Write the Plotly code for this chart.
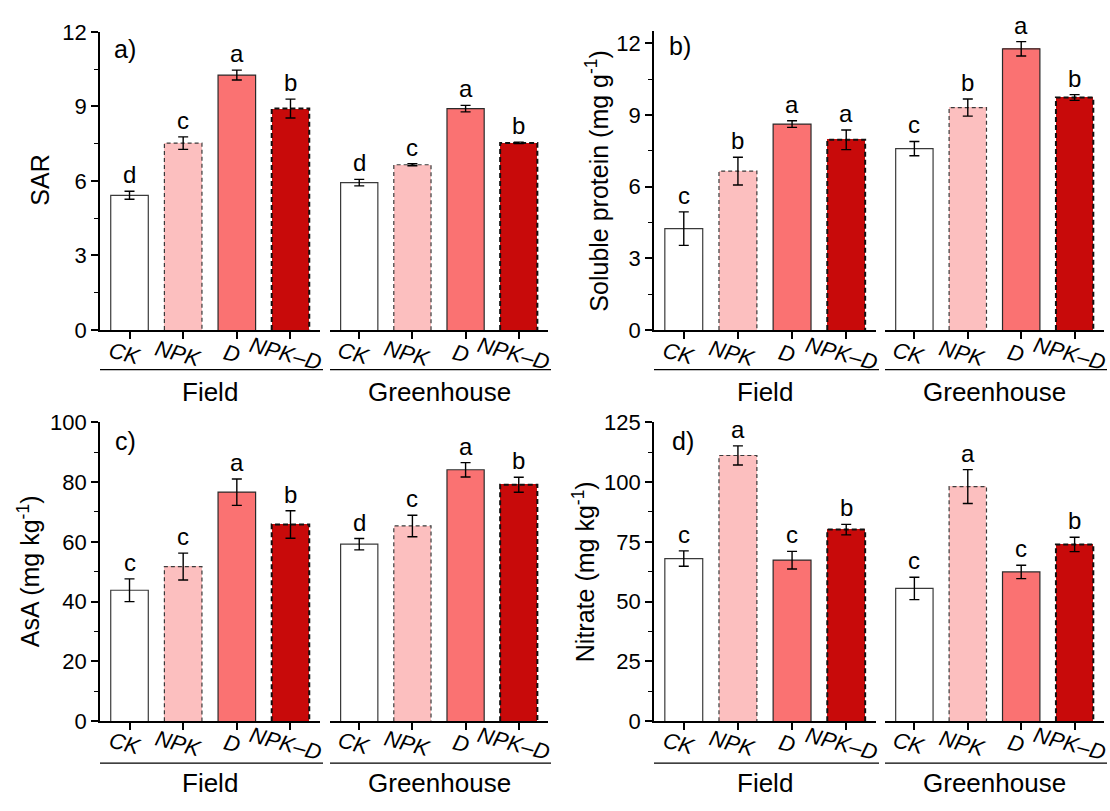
import plotly.graph_objects as go

# ---------------- data ----------------
treatments = ["CK", "NPK", "D", "NPK\u2013D"]
sites = ["Field", "Greenhouse"]

sar_field = [5.42, 7.52, 10.26, 8.91]
sar_field_err = [0.16, 0.25, 0.20, 0.38]
sar_field_sig = ["d", "c", "a", "b"]
sar_gh = [5.93, 6.65, 8.91, 7.53]
sar_gh_err = [0.13, 0.04, 0.13, 0.03]
sar_gh_sig = ["d", "c", "a", "b"]

protein_field = [4.24, 6.65, 8.62, 7.96]
protein_field_err = [0.70, 0.58, 0.14, 0.41]
protein_field_sig = ["c", "b", "a", "a"]
protein_gh = [7.59, 9.31, 11.77, 9.73]
protein_gh_err = [0.30, 0.36, 0.30, 0.12]
protein_gh_sig = ["c", "b", "a", "b"]

asa_field = [43.8, 51.7, 76.6, 65.8]
asa_field_err = [3.8, 4.5, 4.4, 4.6]
asa_field_sig = ["c", "c", "a", "b"]
asa_gh = [59.2, 65.3, 84.1, 79.1]
asa_gh_err = [1.9, 3.6, 2.4, 2.5]
asa_gh_sig = ["d", "c", "a", "b"]

nitrate_field = [68.0, 111.1, 67.3, 80.1]
nitrate_field_err = [3.2, 4.0, 3.7, 2.2]
nitrate_field_sig = ["c", "a", "c", "b"]
nitrate_gh = [55.5, 98.1, 62.4, 73.9]
nitrate_gh_err = [4.7, 7.1, 2.8, 3.0]
nitrate_gh_sig = ["c", "a", "c", "b"]

# ---------------- styling ----------------
FONT = "Liberation Sans, Arial, sans-serif"
W, H = 1110, 811
BAR_W = 0.7
fills = ["#FFFFFF", "#FCBFBF", "#FA7272", "#C80A0A"]
edges = [
    dict(color="#3a3a3a", width=1.2, dash="solid"),
    dict(color="#3a3a3a", width=1.2, dash="4px,3px"),
    dict(color="#2a2a2a", width=1.2, dash="solid"),
    dict(color="#111111", width=2.0, dash="5px,3px"),
]


def px(x):
    return x / W


def py(y):
    return 1 - y / H


panels = [
    dict(tag="a)", title="SAR", yrange=[0, 12], dtick=3, minor=1.5,
         data=[(sar_field, sar_field_err, sar_field_sig),
               (sar_gh, sar_gh_err, sar_gh_sig)],
         cols=[(100, 320), (330, 548)], rows=(20.5, 328),
         title_xy=(40, 174), tag_xy=(125, 38), cat_y=352, line_y=369, site_y=392),
    dict(tag="b)", title="Soluble protein (mg g<sup>-1</sup>)", yrange=[0, 12.5], dtick=3, minor=1.5,
         data=[(protein_field, protein_field_err, protein_field_sig),
               (protein_gh, protein_gh_err, protein_gh_sig)],
         cols=[(654, 876), (885, 1104)], rows=(20, 328),
         title_xy=(597, 174), tag_xy=(680, 35), cat_y=352, line_y=369, site_y=392),
    dict(tag="c)", title="AsA (mg kg<sup>-1</sup>)", yrange=[0, 100], dtick=20, minor=10,
         data=[(asa_field, asa_field_err, asa_field_sig),
               (asa_gh, asa_gh_err, asa_gh_sig)],
         cols=[(100, 320), (330, 548)], rows=(423.3, 731.7),
         title_xy=(29, 577), tag_xy=(125, 443), cat_y=755, line_y=775, site_y=796),
    dict(tag="d)", title="Nitrate (mg kg<sup>-1</sup>)", yrange=[0, 125], dtick=25, minor=12.5,
         data=[(nitrate_field, nitrate_field_err, nitrate_field_sig),
               (nitrate_gh, nitrate_gh_err, nitrate_gh_sig)],
         cols=[(654, 876), (885, 1104)], rows=(423.3, 731.7),
         title_xy=(584, 578), tag_xy=(683, 443), cat_y=755, line_y=775, site_y=796),
]

fig = go.Figure()
layout_axes = {}
annotations = []
shapes = []
xs = list(range(len(treatments)))

for p_i, p in enumerate(panels):
    top_px, bot_px = p["rows"]
    for g_i, (vals, errs, sig) in enumerate(p["data"]):
        n = 2 * p_i + g_i + 1
        xname = "x" if n == 1 else f"x{n}"
        yname = "y" if n == 1 else f"y{n}"
        x0_px, x1_px = p["cols"][g_i]

        # filled bars
        fig.add_trace(go.Bar(
            x=xs, y=vals, width=BAR_W, xaxis=xname, yaxis=yname,
            marker=dict(color=fills, line=dict(width=0)),
            showlegend=False, hoverinfo="skip"))

        # bar outlines (dashed where needed)
        for i, v in enumerate(vals):
            fig.add_trace(go.Scatter(
                x=[i - BAR_W / 2, i - BAR_W / 2, i + BAR_W / 2, i + BAR_W / 2],
                y=[0, v, v, 0], mode="lines", xaxis=xname, yaxis=yname,
                line=edges[i], showlegend=False, hoverinfo="skip"))

        # error bars
        fig.add_trace(go.Scatter(
            x=xs, y=vals, mode="markers", xaxis=xname, yaxis=yname,
            marker=dict(size=1, color="rgba(0,0,0,0)"),
            error_y=dict(type="data", array=errs, visible=True,
                         color="#000000", thickness=1.4, width=5),
            showlegend=False, hoverinfo="skip"))

        # significance letters
        for i, (v, e, s) in enumerate(zip(vals, errs, sig)):
            annotations.append(dict(
                x=i, y=v + e, xref=xname, yref=yname, text=s, showarrow=False,
                xanchor="center", yanchor="bottom", yshift=1,
                font=dict(family=FONT, size=24, color="#000")))

        # category labels (italic, slanted)
        for i, t in enumerate(treatments):
            annotations.append(dict(
                x=i, y=py(p["cat_y"]), xref=xname, yref="paper",
                text=f"<i>{t}</i>", showarrow=False, textangle=15,
                xanchor="center", yanchor="middle", xshift=-5,
                font=dict(family=FONT, size=22, color="#000")))

        # site underline and label
        shapes.append(dict(type="line", xref="paper", yref="paper",
                           x0=px(x0_px), x1=px(x1_px + 3),
                           y0=py(p["line_y"]), y1=py(p["line_y"]),
                           line=dict(color="#000", width=1.4)))
        annotations.append(dict(
            x=px((x0_px + x1_px) / 2), y=py(p["site_y"]), xref="paper", yref="paper",
            text=sites[g_i], showarrow=False, xanchor="center", yanchor="middle",
            font=dict(family=FONT, size=26, color="#000")))

        layout_axes["xaxis" if n == 1 else f"xaxis{n}"] = dict(
            domain=[px(x0_px), px(x1_px)], anchor=yname,
            range=[-0.55, 3.55], tickvals=xs, showticklabels=False,
            ticks="outside", ticklen=7, tickwidth=1.5, tickcolor="#000",
            showline=True, linewidth=1.6, linecolor="#000",
            showgrid=False, zeroline=False, fixedrange=True)

        yax = dict(domain=[py(bot_px), py(top_px)], anchor=xname,
                   range=p["yrange"], showgrid=False, zeroline=False, fixedrange=True)
        if g_i == 0:
            yax.update(showline=True, linewidth=1.6, linecolor="#000",
                       ticks="outside", ticklen=7, tickwidth=1.5, tickcolor="#000",
                       tick0=0, dtick=p["dtick"],
                       tickfont=dict(family=FONT, size=22, color="#000"),
                       minor=dict(ticks="outside", ticklen=4, tickwidth=1.2,
                                  tickcolor="#000", dtick=p["minor"], tick0=0))
        else:
            yax.update(visible=False)
        layout_axes["yaxis" if n == 1 else f"yaxis{n}"] = yax

    # y-axis title and panel tag
    tx, ty = p["title_xy"]
    annotations.append(dict(
        x=px(tx), y=py(ty), xref="paper", yref="paper", text=p["title"],
        showarrow=False, textangle=-90, xanchor="center", yanchor="middle",
        font=dict(family=FONT, size=25, color="#000")))
    gx, gy = p["tag_xy"]
    annotations.append(dict(
        x=px(gx), y=py(gy), xref="paper", yref="paper", text=p["tag"],
        showarrow=False, xanchor="center", yanchor="middle",
        font=dict(family=FONT, size=25, color="#000")))

fig.update_layout(
    width=W, height=H, margin=dict(l=0, r=0, t=0, b=0),
    paper_bgcolor="white", plot_bgcolor="white",
    bargap=0, showlegend=False,
    annotations=annotations, shapes=shapes,
    font=dict(family=FONT, color="#000"),
    **layout_axes)

fig.write_html("out.html")
